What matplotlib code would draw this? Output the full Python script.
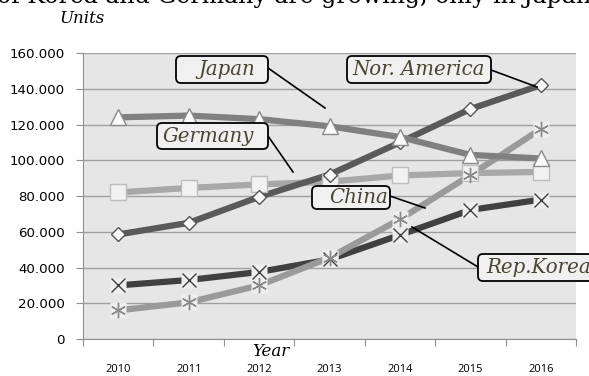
import matplotlib.pyplot as plt
import numpy as np
from matplotlib.ticker import FuncFormatter, FixedLocator
from matplotlib.patches import FancyBboxPatch
from matplotlib.lines import Line2D

years = ['2010', '2011', '2012', '2013', '2014', '2015', '2016']
japan = [124000, 125000, 123000, 119000, 113000, 103000, 101000]
nor_america = [58500, 65000, 79500, 92000, 110000, 128700, 142000]
germany = [82000, 84500, 86500, 88000, 91500, 92800, 93500]
china = [16000, 20500, 30000, 45500, 67000, 91700, 117500]
rep_korea = [30000, 33000, 37500, 44500, 58200, 72200, 78000]

sans = 'Open Sans'
serif = 'DejaVu Serif'
lab_col = '#4a4530'
W, H = 5.89, 3.76

fig = plt.figure(figsize=(W, H), dpi=100)
ax = fig.add_axes([0.141, 0.0984, 0.837, 0.7606])
ax.set_facecolor('#e6e6e6')
x = np.arange(len(years))

ax.set_ylim(0, 160000)
ax.set_xlim(-0.5, 6.5)
ax.set_yticks(np.arange(0, 160001, 20000))
ax.yaxis.grid(True, color='#a0a0a0', lw=1)
ax.set_axisbelow(True)

ax.plot(x, rep_korea, color='#404040', lw=4.5, zorder=3)
ax.plot(x, china, color='#9a9a9a', lw=4.5, zorder=3)
ax.plot(x, nor_america, color='#5a5a5a', lw=4.5, zorder=4)
ax.plot(x, japan, color='#808080', lw=4.5, zorder=4)
ax.plot(x, germany, color='#a8a8a8', lw=4.5, zorder=3)

# light squares behind the x / asterisk markers
ax.plot(x, rep_korea, ls='none', marker='s', ms=11, mfc='#eeeeee', mec='none', zorder=5)
ax.plot(x, rep_korea, ls='none', marker='x', ms=10, mec='#404040', mew=1, zorder=6)
ax.plot(x, china, ls='none', marker='s', ms=11, mfc='#eeeeee', mec='none', zorder=5)
ax.plot(x, china, ls='none', marker=(6, 2, 0), ms=11, mec='#8a8a8a', mew=1, zorder=6)
ax.plot(x, germany, ls='none', marker='s', ms=11, mfc='#f2f2f2', mec='#bdbdbd', mew=1, zorder=5)
ax.plot(x, nor_america, ls='none', marker='D', ms=7.5, mfc='#f8f8f8', mec='#555555', mew=1, zorder=6)
ax.plot(x, japan, ls='none', marker='^', ms=11, mfc='#fafafa', mec='#8a8a8a', mew=1, zorder=6)

ax.yaxis.set_major_formatter(FuncFormatter(lambda v, p: '0' if v == 0 else '%d.000' % (v / 1000)))
ax.xaxis.set_major_locator(FixedLocator(np.arange(-0.5, 7, 1)))
ax.xaxis.set_major_formatter(FuncFormatter(lambda v, p: ''))
ax.xaxis.set_minor_locator(FixedLocator(x))
ax.set_xticklabels(years, minor=True)
ax.tick_params(axis='x', which='major', length=5, color='#909090', direction='out')
ax.tick_params(axis='x', which='minor', length=0, pad=18, labelsize=8)
ax.tick_params(axis='y', length=5, color='#909090', labelsize=9.6, pad=8)
for t in ax.get_xticklabels(minor=True):
    t.set_fontfamily(sans)
for t in ax.get_yticklabels():
    t.set_fontfamily('DejaVu Sans')

for s in ['top', 'right']:
    ax.spines[s].set_visible(False)
for s in ['left', 'bottom']:
    ax.spines[s].set_color('#909090')

# callout boxes, positions in pixels from top-left
tr = fig.dpi_scale_trans
def px(a, b):
    return a / 100, H - b / 100

callouts = [
    # name, box (x0, y0, x1, y1), text x, leader start, leader end
    ('Japan', (176, 56, 268, 83), 227, (268, 68), (325, 108)),
    ('Nor. America', (347, 56, 491, 83), 419, (491, 70), (537, 87)),
    ('Germany', (157, 123, 268, 149), 208, (268, 136), (293, 172)),
    ('China', (312, 186, 390, 209), 359, (390, 196), (425, 208)),
    ('Rep.Korea', (478, 254, 600, 281), 539, (478, 267), (412, 227)),
]
for name, (x0, y0, x1, y1), tx, p0, p1 in callouts:
    a0, b0 = px(x0, y1)
    fig.patches.append(FancyBboxPatch((a0, b0), (x1 - x0) / 100, (y1 - y0) / 100,
                                      boxstyle='round,pad=0,rounding_size=0.05', transform=tr,
                                      fc='#f0f0f0', ec='black', lw=1.3, zorder=10))
    fig.text(*px(tx, (y0 + y1) / 2), name, transform=tr, ha='center', va='center',
             fontsize=14.2, fontstyle='italic', family=serif, color=lab_col, zorder=11)
    (la, lb), (ma, mb) = px(*p0), px(*p1)
    fig.lines.append(Line2D([la, ma], [lb, mb], transform=tr, color='black', lw=1.2, zorder=9))

fig.text(0.5, 1 - 3 / 376, 'of Korea and Germany are growing, only in Japan', ha='center',
         va='baseline', fontsize=17, family=serif)
fig.text(0.14, 0.95, 'Units', ha='center', va='center', fontsize=12, fontstyle='italic', family=serif)
fig.text(0.46, 0.066, 'Year', ha='center', va='center', fontsize=12, fontstyle='italic', family=serif)

fig.savefig('out.png', dpi=100)
